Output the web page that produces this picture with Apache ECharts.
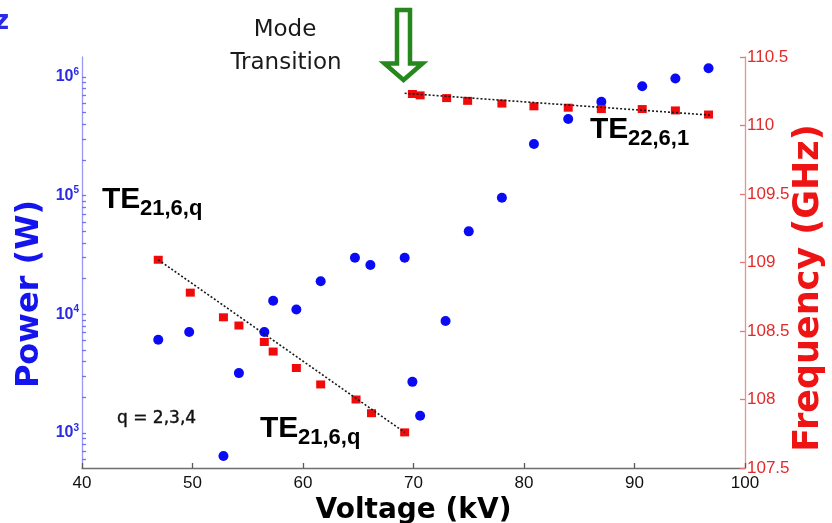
<!DOCTYPE html>
<html>
<head>
<meta charset="utf-8">
<script src="https://cdn.jsdelivr.net/npm/echarts@6/dist/echarts.min.js"></script>
<style>
  html, body { margin: 0; padding: 0; background: #fff; }
  #chart { width: 832px; height: 523px; }
</style>
</head>
<body>
<div id="chart"></div>
<script>
// Beam voltage (kV) of each measured operating point
const voltage = [46.9, 49.7, 52.8, 54.2, 56.5, 57.3, 59.4, 61.6, 64.7, 66.1, 69.2,
                 69.9, 70.6, 72.9, 75.0, 78.0, 80.9, 84.0, 87.0, 90.7, 93.7, 96.7];
// Output power (W) at those voltages
const power = [6100, 7100, 640, 3200, 7100, 13000, 11000, 19000, 30000, 26000, 30000,
               2700, 1400, 8800, 50000, 96000, 272000, 441000, 616000, 835000, 970000, 1180000];

// Oscillation frequency (GHz), TE21,6,q branch
const lowModeVoltage = [46.9, 49.8, 52.8, 54.2, 56.5, 57.3, 59.4, 61.6, 64.8, 66.2, 69.2];
const lowModeFreq = [109.02, 108.78, 108.60, 108.54, 108.42, 108.35, 108.23, 108.11, 108.00, 107.90, 107.76];

// Oscillation frequency (GHz), TE22,6,1 branch
const highModeVoltage = [69.9, 70.6, 73.0, 74.9, 78.0, 80.9, 84.0, 87.0, 90.7, 93.7, 96.7];
const highModeFreq = [110.23, 110.22, 110.20, 110.18, 110.16, 110.14, 110.13, 110.12, 110.12, 110.11, 110.08];

// End points of the dotted trend lines
const lowFitVoltage = [46.9, 69.2];
const lowFitFreq = [109.02, 107.76];
const highFitVoltage = [69.2, 97.0];
const highFitFreq = [110.235, 110.075];

// Axis ranges and tick labels
const voltageRange = [40, 100];
const voltageStep = 10;
const powerRange = [508, 1.47e6];
const powerDecades = [1e3, 1e4, 1e5, 1e6];
const freqRange = [107.5, 110.5];
const freqStep = 0.5;

// log-scale tick marks: every k * 10^n inside the power range
const powerTicks = [];
for (let n = 2; n <= 6; n++) {
  for (let k = 1; k <= 9; k++) {
    const v = k * Math.pow(10, n);
    if (v >= powerRange[0] && v <= powerRange[1]) powerTicks.push(v);
  }
}

const BLUE = '#0a0af4';
const RED = '#f00a0a';
const BLUE_AXIS = '#9a9af0';
const RED_AXIS = '#ee9090';

const zip = (xs, ys) => xs.map((x, i) => [x, ys[i]]);

const chart = echarts.init(document.getElementById('chart'), null, { renderer: 'canvas' });

const teLabel = (x, y, sub) => ([
  { type: 'text', x: x, y: y, style: { text: 'TE', font: 'bold 30px "Liberation Sans"', fill: '#000', align: 'left', verticalAlign: 'middle' } },
  { type: 'text', x: x + 38, y: y + 9, style: { text: sub, font: 'bold 22px "Liberation Sans"', fill: '#000', align: 'left', verticalAlign: 'middle' } }
]);

chart.setOption({
  backgroundColor: '#fff',
  animation: false,
  grid: { left: 82, right: 87, top: 57, bottom: 55, outerBoundsMode: 'none' },
  xAxis: {
    type: 'value',
    min: voltageRange[0], max: voltageRange[1], interval: voltageStep,
    axisLine: { show: true, lineStyle: { color: '#6e6e6e', width: 1.3 } },
    axisTick: { show: true, inside: true, length: 5, lineStyle: { color: '#5a5a5a', width: 1.3 } },
    axisLabel: { color: '#111', fontSize: 17, fontFamily: 'Liberation Sans', margin: 7 },
    splitLine: { show: false },
    name: 'Voltage (kV)',
    nameLocation: 'middle',
    nameGap: 14,
    nameTextStyle: { fontFamily: 'DejaVu Sans', fontWeight: 'bold', fontSize: 28, color: '#000' }
  },
  yAxis: [
    {
      type: 'log', logBase: 10,
      min: powerRange[0], max: powerRange[1],
      position: 'left',
      axisLine: { show: true, lineStyle: { color: BLUE_AXIS, width: 1.3 } },
      axisTick: { show: true, inside: true, length: 4, customValues: powerTicks, lineStyle: { color: '#7474ea', width: 1.3 } },
      splitLine: { show: false },
      axisLabel: {
        customValues: powerDecades,
        margin: 3,
        formatter: v => '{b|10}{s|' + Math.round(Math.log10(v)) + '}',
        rich: {
          b: { fontFamily: 'Liberation Sans', fontWeight: 'bold', fontSize: 16, color: '#2b2be6', lineHeight: 20 },
          s: { fontFamily: 'Liberation Sans', fontWeight: 'bold', fontSize: 10, color: '#2b2be6', verticalAlign: 'top', lineHeight: 12 }
        }
      }
    },
    {
      type: 'value',
      position: 'right',
      min: freqRange[0], max: freqRange[1], interval: freqStep,
      axisLine: { show: true, lineStyle: { color: RED_AXIS, width: 1.3 } },
      axisTick: { show: true, inside: true, length: 5, lineStyle: { color: '#e87878', width: 1.3 } },
      axisLabel: { color: '#e22a2a', fontSize: 17, fontFamily: 'Liberation Sans', margin: 2 },
      splitLine: { show: false }
    }
  ],
  series: [
    {
      name: 'Power', type: 'scatter', yAxisIndex: 0,
      data: zip(voltage, power),
      symbol: 'circle', symbolSize: 10,
      itemStyle: { color: BLUE, opacity: 1 },
      z: 3
    },
    {
      name: 'TE21,6,q', type: 'scatter', yAxisIndex: 1,
      data: zip(lowModeVoltage, lowModeFreq),
      symbol: 'rect', symbolSize: [9, 8],
      itemStyle: { color: RED, opacity: 1 },
      z: 3
    },
    {
      name: 'TE22,6,1', type: 'scatter', yAxisIndex: 1,
      data: zip(highModeVoltage, highModeFreq),
      symbol: 'rect', symbolSize: [9, 8],
      itemStyle: { color: RED, opacity: 1 },
      z: 3
    },
    {
      name: 'TE21,6,q trend', type: 'line', yAxisIndex: 1,
      data: zip(lowFitVoltage, lowFitFreq),
      showSymbol: false, silent: true,
      lineStyle: { color: '#1a1a1a', width: 1.6, type: [2, 2] },
      z: 4
    },
    {
      name: 'TE22,6,1 trend', type: 'line', yAxisIndex: 1,
      data: zip(highFitVoltage, highFitFreq),
      showSymbol: false, silent: true,
      lineStyle: { color: '#1a1a1a', width: 1.6, type: [2, 2] },
      z: 4
    }
  ],
  graphic: [
    { type: 'text', x: -6, y: 22, style: { text: 'z', font: 'bold 26px "DejaVu Sans"', fill: '#2a2ae8', verticalAlign: 'middle' } },
    { type: 'text', x: 285, y: 30, style: { text: 'Mode', font: '23px "DejaVu Sans"', fill: '#1a1a1a', align: 'center', verticalAlign: 'middle' } },
    { type: 'text', x: 286, y: 63, style: { text: 'Transition', font: '23px "DejaVu Sans"', fill: '#1a1a1a', align: 'center', verticalAlign: 'middle' } },
    {
      type: 'polygon',
      shape: { points: [[397, 10], [410, 10], [410, 63.5], [422.5, 63.5], [403.5, 80], [384.5, 63.5], [397, 63.5]] },
      style: { fill: '#fff', stroke: '#26881c', lineWidth: 4.5, lineJoin: 'miter' }
    },
    ...teLabel(102, 200, '21,6,q'),
    ...teLabel(260, 429, '21,6,q'),
    ...teLabel(590, 130, '22,6,1'),
    { type: 'text', x: 117, y: 419, style: { text: 'q = 2,3,4', font: '17px "DejaVu Sans"', fill: '#111', stroke: '#111', lineWidth: 0.4, align: 'left', verticalAlign: 'middle' } },
    { type: 'text', x: 30, y: 294, rotation: Math.PI / 2, style: { text: 'Power (W)', font: 'bold 32px "DejaVu Sans"', fill: '#1414ee', align: 'center', verticalAlign: 'middle' } },
    { type: 'text', x: 809, y: 288, rotation: Math.PI / 2, style: { text: 'Frequency (GHz)', font: 'bold 35px "DejaVu Sans"', fill: '#ee1414', align: 'center', verticalAlign: 'middle' } }
  ]
});
</script>
</body>
</html>
